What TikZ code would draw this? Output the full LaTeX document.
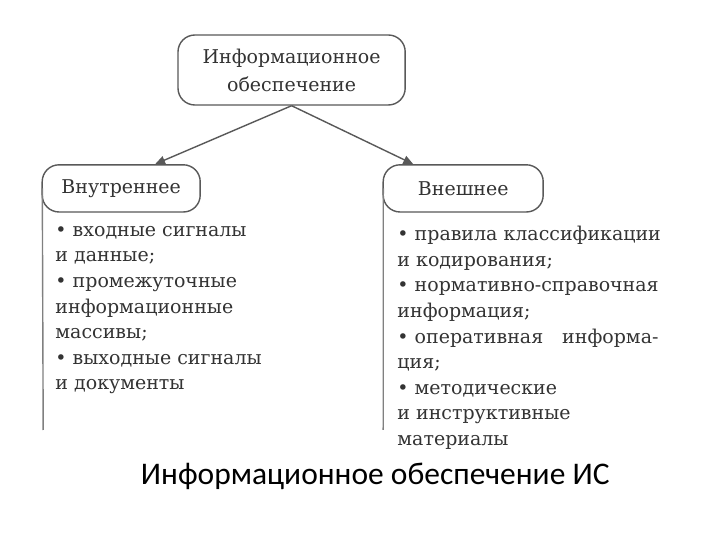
\documentclass[tikz,border=0pt]{standalone}
\usepackage{fontspec}
\setmainfont{DejaVu Serif}
\newfontfamily\captionfont{Carlito}
\usetikzlibrary{arrows.meta, positioning}

\begin{document}
\begin{tikzpicture}[
  box/.style={draw=black!65, line width=1pt, rounded corners=12pt, text=black!80,
    font=\fontsize{13.5pt}{20pt}\selectfont, align=center, inner sep=0pt},
  link/.style={draw=black!65, line width=1pt, -{Triangle[length=7pt,width=6pt]}},
  rail/.style={draw=black!50, line width=1pt},
  itemlist/.style={anchor=north west, align=left, text=black!80, inner sep=0pt,
    font=\fontsize{13.5pt}{18.2pt}\selectfont}
]
  \useasboundingbox[fill=white] (0,0) rectangle (18,13.5);

  % Tree
  \node[box, minimum width=5.68cm, minimum height=1.75cm] (info) at (7.29,11.75)
    {Информационное\\обеспечение};
  \node[box, minimum width=3.95cm, minimum height=1.18cm] (inner) at (3.03,8.79) {Внутреннее};
  \node[box, minimum width=4.0cm, minimum height=1.18cm] (outer) at (11.58,8.79) {Внешнее};

  \draw[link] (info.south) -- ([xshift=0.85cm]inner.north);
  \draw[link] (info.south) -- ([xshift=-1.25cm]outer.north);

  % Side rails
  \coordinate (innerend) at (1.08,2.75);
  \coordinate (outerend) at (9.58,2.75);
  \draw[rail] ([xshift=0.02cm]inner.west) -- (innerend);
  \draw[rail] ([xshift=0.02cm]outer.west) -- (outerend);

  % Lists
  \node[itemlist] (innerlist) at (1.38,7.85) {%
    • входные сигналы\\
    и данные;\\
    • промежуточные\\
    информационные\\
    массивы;\\
    • выходные сигналы\\
    и документы};
  \node[itemlist] (outerlist) at (9.93,7.85) {%
    • правила классификации\\
    и кодирования;\\
    • нормативно-справочная\\
    информация;\\
    • оперативная\quad информа-\\
    ция;\\
    • методические\\
    и инструктивные\\
    материалы};

  % Caption
  \node[font=\captionfont\fontsize{22.4pt}{26pt}\selectfont] (caption) at (9.38,1.6)
    {Информационное обеспечение ИС};
\end{tikzpicture}
\end{document}
